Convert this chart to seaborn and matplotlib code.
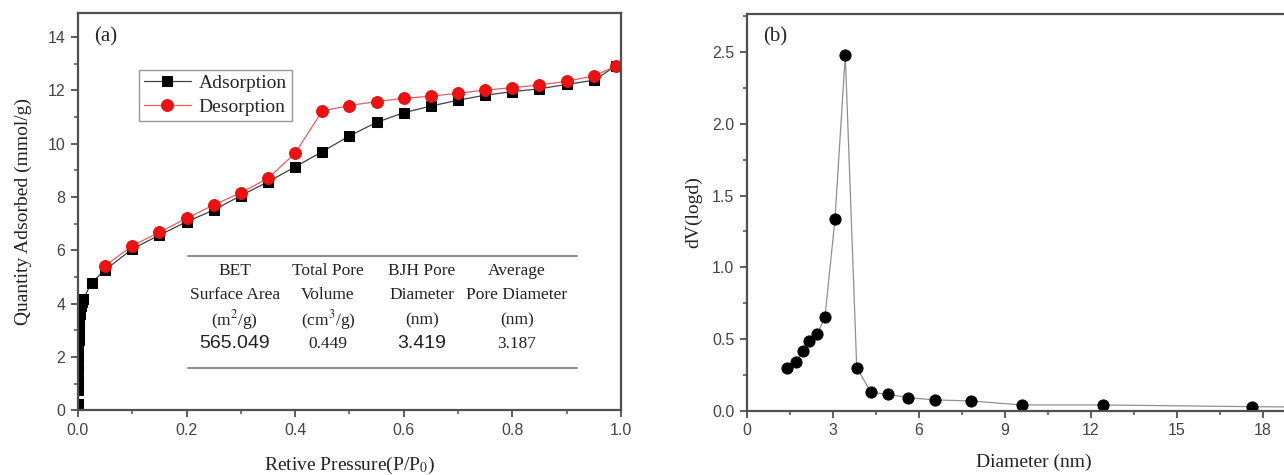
import numpy as np
import pandas as pd
import matplotlib
matplotlib.use("Agg")
import matplotlib.pyplot as plt
import seaborn as sns
from matplotlib.ticker import MultipleLocator

sns.set_theme(style="white")
plt.rcParams['font.family'] = ['Liberation Serif', 'DejaVu Serif']
plt.rcParams['mathtext.fontset'] = 'stix'

# ---------------- data ----------------
ads_p = [0.0005, 0.0005, 0.0005, 0.0006, 0.0006, 0.0007, 0.0007, 0.0008, 0.0008,
         0.0009, 0.0009, 0.001, 0.001, 0.0011, 0.0012, 0.0013, 0.0014, 0.0016,
         0.002, 0.003, 0.004, 0.006, 0.008, 0.01,
         0.025, 0.05, 0.1, 0.15, 0.2, 0.25, 0.3, 0.35, 0.4, 0.45, 0.5, 0.55,
         0.6, 0.65, 0.7, 0.75, 0.8, 0.85, 0.9, 0.95, 0.99]
ads_q = [0.05, 0.25, 0.45, 0.65, 0.85, 1.05, 1.25, 1.45, 1.65,
         1.85, 2.05, 2.25, 2.45, 2.65, 2.85, 3.05, 3.2, 3.35,
         3.5, 3.6, 3.75, 3.9, 4.07, 4.17,
         4.79, 5.26, 6.05, 6.57, 7.07, 7.51, 8.05, 8.57, 9.13, 9.7, 10.29, 10.8,
         11.16, 11.41, 11.63, 11.82, 11.95, 12.06, 12.22, 12.38, 12.9]
des_p = [0.99, 0.95, 0.9, 0.85, 0.8, 0.75, 0.7, 0.65, 0.6, 0.55, 0.5, 0.45,
         0.4, 0.35, 0.3, 0.25, 0.2, 0.15, 0.1, 0.05]
des_q = [12.9, 12.54, 12.34, 12.2, 12.1, 12.01, 11.89, 11.78, 11.7, 11.58, 11.43, 11.23,
         9.64, 8.7, 8.16, 7.7, 7.2, 6.68, 6.17, 5.42]

table_headers1 = ["BET", "Total Pore", "BJH Pore", "Average"]
table_headers2 = ["Surface Area", "Volume", "Diameter", "Pore Diameter"]
table_units = ["(m$^2$/g)", "(cm$^3$/g)", "(nm)", "(nm)"]
table_values = ["565.049", "0.449", "3.419", "3.187"]

diam = [1.42, 1.72, 1.95, 2.18, 2.46, 2.73, 3.08, 3.44, 3.84, 4.34, 4.92, 5.64,
        6.57, 7.81, 9.59, 12.42, 17.61, 22.0]
dv = [0.30, 0.337, 0.416, 0.485, 0.532, 0.652, 1.335, 2.48, 0.30, 0.128, 0.114, 0.091,
      0.075, 0.068, 0.04, 0.04, 0.028, 0.022]

# ---------------- figure ----------------
fig = plt.figure(figsize=(12.84, 4.75), dpi=100)
ax1 = fig.add_axes([0.0607, 0.1362, 0.4229, 0.8364])
ax2 = fig.add_axes([0.5815, 0.1354, 0.4466, 0.836])

spine_col = '#505050'
tick_col = '#444444'
text_col = '#222222'

ads_df = pd.DataFrame({"p": ads_p, "q": ads_q})
des_df = pd.DataFrame({"p": des_p, "q": des_q})

sns.lineplot(data=ads_df, x="p", y="q", ax=ax1, sort=False, color='#404040', lw=0.9,
             marker='s', markersize=7, markerfacecolor='black', markeredgecolor='black',
             label="Adsorption")
sns.lineplot(data=des_df, x="p", y="q", ax=ax1, sort=False, color='#e06060', lw=0.9,
             marker='o', markersize=8.5, markerfacecolor='#ee1111', markeredgecolor='#dd1111',
             label="Desorption")

ax1.set_xlim(0, 1.0)
ax1.set_ylim(0, 14.9)
ax1.xaxis.set_major_locator(MultipleLocator(0.2))
ax1.xaxis.set_minor_locator(MultipleLocator(0.1))
ax1.yaxis.set_major_locator(MultipleLocator(2))
ax1.yaxis.set_minor_locator(MultipleLocator(1))
ax1.set_xticks([0, 0.2, 0.4, 0.6, 0.8, 1.0])
ax1.set_xticklabels(["0.0", "0.2", "0.4", "0.6", "0.8", "1.0"])
ax1.set_xlabel("Retive Pressure(P/P$_0$)", fontsize=14, labelpad=12)
ax1.set_ylabel("Quantity Adsorbed (mmol/g)", fontsize=14, labelpad=11)
ax1.text(0.03, 0.965, "(a)", transform=ax1.transAxes, fontsize=15, va='top', ha='left')

leg = ax1.legend(loc='upper left', bbox_to_anchor=(0.113, 0.857), fontsize=14,
                 frameon=True, fancybox=False, edgecolor='#808080', borderpad=0.25,
                 handlelength=2.4, handletextpad=0.4, labelspacing=0.3,
                 borderaxespad=0.0)
leg.get_frame().set_linewidth(1.0)

# table inside panel (a)
col_x = [235, 328, 421.7, 516.7]
def to_ax(px, py):
    return ((px - 78) / 543.0, (410.3 - py) / 397.3)

for i, cx in enumerate(col_x):
    x_a, _ = to_ax(cx, 0)
    ax1.text(x_a, to_ax(0, 270.7)[1], table_headers1[i], transform=ax1.transAxes,
             ha='center', va='center', fontsize=12.5, color=text_col)
    ax1.text(x_a, to_ax(0, 295)[1], table_headers2[i], transform=ax1.transAxes,
             ha='center', va='center', fontsize=12.5, color=text_col)
    ax1.text(x_a, to_ax(0, 320)[1], table_units[i], transform=ax1.transAxes,
             ha='center', va='center', fontsize=12.5, color=text_col)
    if i in (0, 2):
        ax1.text(x_a, to_ax(0, 343.5)[1], table_values[i], transform=ax1.transAxes,
                 ha='center', va='center', fontsize=14, color=text_col,
                 family=['Liberation Sans', 'DejaVu Sans'])
    else:
        ax1.text(x_a, to_ax(0, 344)[1], table_values[i], transform=ax1.transAxes,
                 ha='center', va='center', fontsize=12.5, color=text_col)

x0, yt = to_ax(188, 255.7)
x1, yb = to_ax(577, 367.7)
ax1.plot([x0, x1], [yt, yt], transform=ax1.transAxes, color='#808080', lw=1.3)
ax1.plot([x0, x1], [yb, yb], transform=ax1.transAxes, color='#808080', lw=1.3)

# ---------------- panel (b) ----------------
b_df = pd.DataFrame({"d": diam, "v": dv})
sns.lineplot(data=b_df, x="d", y="v", ax=ax2, sort=False, color='#909090', lw=0.9,
             marker='o', markersize=8, markerfacecolor='black', markeredgecolor='black')
ax2.set_xlim(0, 20)
ax2.set_ylim(0, 2.77)
ax2.xaxis.set_major_locator(MultipleLocator(3))
ax2.xaxis.set_minor_locator(MultipleLocator(1.5))
ax2.yaxis.set_major_locator(MultipleLocator(0.5))
ax2.yaxis.set_minor_locator(MultipleLocator(0.25))
ax2.set_xlabel("Diameter (nm)", fontsize=14, labelpad=11)
ax2.set_ylabel("dV(logd)", fontsize=14, labelpad=7)
ax2.text(0.028, 0.965, "(b)", transform=ax2.transAxes, fontsize=15, va='top', ha='left')
ax2.yaxis.set_major_formatter(matplotlib.ticker.FormatStrFormatter('%.1f'))

for ax in (ax1, ax2):
    for s in ax.spines.values():
        s.set_visible(True)
        s.set_color(spine_col)
        s.set_linewidth(1.6)
    ax.tick_params(which='major', direction='out', length=5, width=1.3, color=spine_col,
                   labelsize=11.5, labelcolor=tick_col, bottom=True, left=True, pad=4)
    ax.tick_params(which='minor', direction='out', length=3, width=1.1, color=spine_col,
                   bottom=True, left=True)
    for lbl in ax.get_xticklabels() + ax.get_yticklabels():
        lbl.set_family(['Liberation Sans', 'DejaVu Sans'])
    ax.xaxis.label.set_color(text_col)
    ax.yaxis.label.set_color(text_col)

fig.savefig("out.png", dpi=100)
